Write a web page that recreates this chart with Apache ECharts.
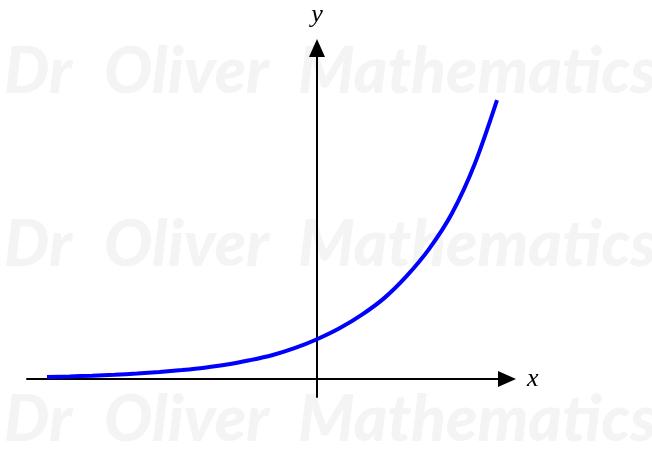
<!DOCTYPE html>
<html>
<head>
<meta charset="utf-8">
<script src="https://cdn.jsdelivr.net/npm/echarts@6/dist/echarts.min.js"></script>
<style>
html, body { margin: 0; padding: 0; background: #fff; }
#main { width: 652px; height: 449px; }
</style>
</head>
<body>
<div id="main"></div>
<script>
// points
var xValues = [-3, -2.75, -2.5, -2.25, -2, -1.75, -1.5, -1.25, -1, -0.75, -0.5, -0.25, 0, 0.25, 0.5, 0.75, 1, 1.25, 1.5, 1.75, 2];
var yValues = [0.05, 0.065, 0.085, 0.11, 0.14, 0.18, 0.23, 0.29, 0.37, 0.48, 0.61, 0.79, 1.02, 1.3, 1.65, 2.08, 2.65, 3.35, 4.25, 5.5, 7.15];
var axisNames = ['x', 'y'];
var watermarkWords = ['Dr', 'Oliver', 'Mathematics'];

var curve = [];
for (var i = 0; i < xValues.length; i++) {
    curve.push([xValues[i], yValues[i]]);
}

var myChart = echarts.init(document.getElementById('main'), null, { renderer: 'canvas' });

// faint watermark, three rows
var marks = [];
var wordX = [4, 104, 298];
[93, 266, 441].forEach(function (base) {
    for (var k = 0; k < watermarkWords.length; k++) {
        marks.push({
            type: 'text',
            x: wordX[k],
            y: base - 21,
            silent: true,
            z: -10,
            style: {
                text: watermarkWords[k],
                font: 'italic 900 64px Lato',
                fill: '#f4f4f4',
                verticalAlign: 'middle'
            }
        });
    }
});

function axisStyle(name, gap) {
    return {
        type: 'value',
        name: name,
        nameLocation: 'end',
        nameGap: gap,
        nameTextStyle: { fontFamily: 'Liberation Serif', fontStyle: 'italic', fontSize: 26, color: '#000' },
        axisLine: {
            onZero: true,
            lineStyle: { color: '#000', width: 2 },
            symbol: ['none', 'triangle'],
            symbolSize: [16, 18],
            symbolOffset: [0, 0]
        },
        axisTick: { show: false },
        axisLabel: { show: false },
        splitLine: { show: false }
    };
}

var xAxis = axisStyle(axisNames[0], 20);
xAxis.min = -3.222;
xAxis.max = 2.111;
var yAxis = axisStyle(axisNames[1], 20);
yAxis.min = -0.4615;
yAxis.max = 8.487;

var option = {
    animation: false,
    backgroundColor: '#fff',
    graphic: marks,
    grid: { left: 27, right: 145, top: 48, bottom: 52 },
    xAxis: xAxis,
    yAxis: yAxis,
    series: [{
        type: 'line',
        data: curve,
        smooth: 0.3,
        showSymbol: false,
        lineStyle: { color: '#0000ff', width: 4 },
        z: 5
    }]
};

myChart.setOption(option);
window.onresize = myChart.resize;
</script>
</body>
</html>
